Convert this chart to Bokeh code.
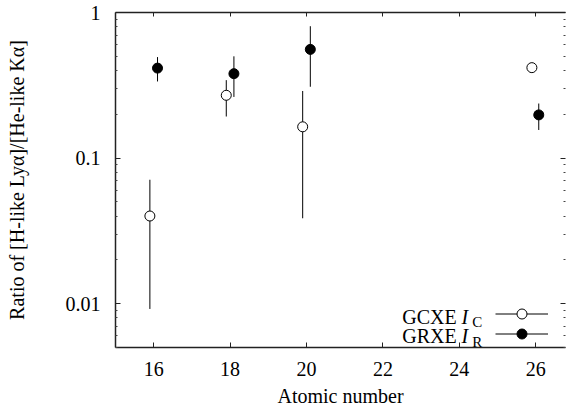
from bokeh.plotting import figure
from bokeh.models import (LogAxis, LinearAxis, Legend, LegendItem, Label,
                          NumeralTickFormatter, FixedTicker, CustomLabelingPolicy)
from bokeh.embed import file_html
from bokeh.resources import INLINE

# ---- data ----
gcxe_x = [15.9, 17.9, 19.9, 25.9]
gcxe_ratio = [0.040, 0.27, 0.164, 0.418]
gcxe_lo = [0.0092, 0.193, 0.0386, 0.392]
gcxe_hi = [0.071, 0.343, 0.289, 0.450]

grxe_x = [16.1, 18.1, 20.1, 26.08]
grxe_ratio = [0.415, 0.38, 0.558, 0.198]
grxe_lo = [0.336, 0.263, 0.309, 0.156]
grxe_hi = [0.494, 0.50, 0.805, 0.237]

x_ticks = [16, 18, 20, 22, 24, 26]
y_ticks = [0.01, 0.1, 1]
y_minor = [m * 10.0 ** e for e in (-3, -2, -1) for m in range(2, 10)]

FONT = "Liberation Serif"

p = figure(frame_width=450, frame_height=335,
           x_range=(15, 26.78), y_range=(0.005, 1),
           y_axis_type="log", output_backend="svg", toolbar_location=None,
           min_border_left=115, min_border_top=12, min_border_right=2,
           min_border_bottom=0)
p.outline_line_color = None
p.xgrid.grid_line_color = None
p.ygrid.grid_line_color = None
p.background_fill_color = "white"
p.border_fill_color = "white"

def style_axis(ax):
    ax.axis_line_color = "#222222"
    ax.axis_line_width = 1.5
    ax.major_tick_line_color = "#222222"
    ax.minor_tick_line_color = "#444444"
    ax.major_tick_in = 5
    ax.major_tick_out = 0
    ax.minor_tick_in = 2
    ax.minor_tick_out = 0
    ax.major_label_text_font = FONT
    ax.major_label_text_font_size = "20px"
    ax.major_label_text_color = "black"
    ax.axis_label_text_font = FONT
    ax.axis_label_text_font_size = "20px"
    ax.axis_label_text_font_style = "normal"
    ax.axis_label_text_color = "black"

def no_labels():
    return CustomLabelingPolicy(code="""
    for (const i of Array.from(indices)) indices.unset(i)
    return indices
""")

# bottom x axis
xa = p.xaxis[0]
style_axis(xa)
xa.ticker = FixedTicker(ticks=x_ticks)
xa.minor_tick_line_color = None
xa.axis_label = "Atomic number"
xa.major_label_standoff = 14
xa.axis_label_standoff = 6

# left y axis
ya = p.yaxis[0]
style_axis(ya)
ya.ticker = FixedTicker(ticks=y_ticks, minor_ticks=y_minor)
ya.formatter = NumeralTickFormatter(format="0.[00]")
ya.axis_label = "Ratio of [H-like Lyα]/[He-like Kα]"
ya.major_label_standoff = 15
ya.axis_label_standoff = 35

# top axis (ticks only)
ta = LinearAxis(ticker=FixedTicker(ticks=x_ticks))
style_axis(ta)
ta.minor_tick_line_color = None
ta.major_tick_in = 4
ta.major_label_text_font_size = "1px"
ta.major_label_standoff = 0
ta.major_label_policy = no_labels()
p.add_layout(ta, "above")

# right axis (ticks only, no line)
ra = LogAxis(ticker=FixedTicker(ticks=y_ticks, minor_ticks=y_minor))
style_axis(ra)
ra.axis_line_color = None
ra.major_label_text_font_size = "1px"
ra.major_label_standoff = 0
ra.major_label_policy = no_labels()
p.add_layout(ra, "right")

# error bars and points
seg_c = p.segment(x0=gcxe_x, y0=gcxe_lo, x1=gcxe_x, y1=gcxe_hi,
                  line_color="black", line_width=1)
seg_r = p.segment(x0=grxe_x, y0=grxe_lo, x1=grxe_x, y1=grxe_hi,
                  line_color="black", line_width=1)
sc_c = p.scatter(gcxe_x, gcxe_ratio, size=10, marker="circle",
                 fill_color="white", line_color="black", line_width=1)
sc_r = p.scatter(grxe_x, grxe_ratio, size=10, marker="circle",
                 fill_color="black", line_color="black", line_width=1)

# legend samples
def make_legend(renderers, loc):
    lg = Legend(items=[LegendItem(label=" ", renderers=renderers)],
                location=loc, orientation="vertical",
                glyph_width=53, glyph_height=25, label_width=1, label_height=10,
                label_standoff=0, padding=0, margin=0, spacing=0,
                border_line_color=None, background_fill_alpha=0,
                label_text_font_size="8px")
    p.add_layout(lg)

make_legend([seg_c, sc_c], (380, 21.5))
make_legend([seg_r, sc_r], (380, 1.5))

# legend texts
def lbl(x, y, t, size="20px", style="normal", align="left"):
    p.add_layout(Label(x=x, y=y, text=t, text_font=FONT, text_font_size=size,
                       text_font_style=style, text_align=align,
                       text_baseline="alphabetic", text_color="black"))

lbl(23.93, 0.00809, "GCXE", align="right")
lbl(24.06, 0.00809, "I", style="italic")
lbl(24.34, 0.00748, "C", size="15px")
lbl(23.93, 0.00597, "GRXE", align="right")
lbl(24.06, 0.00597, "I", style="italic")
lbl(24.34, 0.00546, "R", size="15px")

open("out.html", "w").write(file_html(p, INLINE))
